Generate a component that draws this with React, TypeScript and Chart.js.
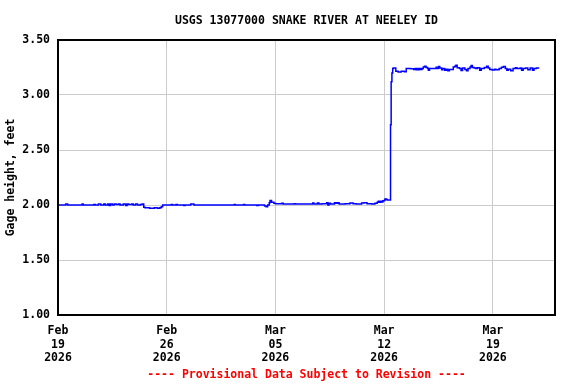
import { useEffect, useRef } from "react";
import { Chart, registerables } from "chart.js";

Chart.register(...registerables);

const chartTitle = "USGS 13077000 SNAKE RIVER AT NEELEY ID";
const yAxisTitle = "Gage height, feet";
const footerNote = "---- Provisional Data Subject to Revision ----";

// x values are days since Feb 19 2026 00:00
const xMinDay = 0;
const xMaxDay = 32;
const xTickDays = [0, 7, 14, 21, 28];
const xTickLabels = [
  ["Feb", "19", "2026"],
  ["Feb", "26", "2026"],
  ["Mar", "05", "2026"],
  ["Mar", "12", "2026"],
  ["Mar", "19", "2026"],
];
const yMin = 1.0;
const yMax = 3.5;
const yStep = 0.5;

const gageDays = [
  0.0, 0.5, 0.62, 1.55, 1.62, 2.3, 2.4, 2.6, 2.75, 2.95, 3.05, 3.2, 3.3, 3.38, 3.5, 3.62, 3.75, 3.9, 4.0,
  4.2, 4.35, 4.45, 4.55, 4.75, 4.85, 5.0, 5.12, 5.3, 5.42, 5.52, 5.6, 5.9, 6.2, 6.4, 6.55, 6.65,
  6.74, 7.3, 7.38, 7.6, 7.68, 8.1, 8.18, 8.55, 8.75, 11.35, 11.42, 11.95, 12.02, 12.8, 12.9, 13.3, 13.4,
  13.5, 13.6, 13.65, 13.75, 13.9, 14.0, 14.4, 14.5, 15.2, 15.3, 16.4, 16.48, 16.7, 16.8, 17.0, 17.3,
  17.38, 17.45, 17.55, 17.8, 17.9, 18.0, 18.1, 18.5, 18.8, 19.0, 19.2, 19.55, 19.7, 19.9, 20.2, 20.4,
  20.55, 20.62, 20.7, 20.78, 20.85, 20.92, 21.0, 21.05, 21.15, 21.2,
  21.41, 21.45, 21.5, 21.55, 21.6, 21.75, 21.9, 22.1, 22.3, 22.42, 22.7, 22.9, 23.0, 23.05, 23.12, 23.2,
  23.28, 23.36, 23.44, 23.52, 23.6, 23.7, 23.8, 23.85, 23.92, 24.2, 24.35, 24.4, 24.5, 24.58, 24.7,
  24.78, 24.9, 25.0, 25.1, 25.2, 25.45, 25.55, 25.62, 25.7, 25.85, 25.95, 26.05, 26.2, 26.3, 26.4,
  26.53, 26.6, 26.68, 26.8, 26.9, 27.0, 27.15, 27.25, 27.45, 27.6, 27.7, 27.8, 27.95, 28.1, 28.2, 28.4,
  28.55, 28.68, 28.8, 28.9, 29.0, 29.15, 29.3, 29.45, 29.55, 29.75, 29.85, 29.95, 30.1, 30.25, 30.4,
  30.55, 30.65, 30.8, 30.94,
];

const gageFeet = [
  2.0, 2.01, 2.0, 2.01, 2.0, 2.005, 2.0, 2.01, 2.0, 2.01, 2.0, 2.01, 1.995, 2.01, 2.0, 2.01, 2.005, 2.01, 2.0,
  2.01, 1.995, 2.01, 2.005, 2.01, 2.0, 2.01, 2.0, 2.005, 2.01, 1.98, 1.975, 1.97, 1.975, 1.97, 1.975, 1.985,
  2.0, 2.005, 2.0, 2.005, 2.0, 1.995, 2.0, 2.01, 2.0, 2.005, 2.0, 2.005, 2.0, 1.995, 2.0, 1.99, 1.985,
  2.0, 2.02, 2.04, 2.025, 2.015, 2.012, 2.015, 2.01, 2.012, 2.01, 2.018, 2.01, 2.018, 2.01, 2.012, 2.02,
  2.0, 2.015, 2.01, 2.02, 2.015, 2.02, 2.01, 2.012, 2.018, 2.012, 2.01, 2.018, 2.02, 2.012, 2.01, 2.015,
  2.025, 2.035, 2.025, 2.035, 2.028, 2.038, 2.04, 2.055, 2.05, 2.045,
  2.73, 3.12, 3.2, 3.24, 3.245, 3.215, 3.21, 3.215, 3.212, 3.24, 3.238, 3.232, 3.24, 3.23, 3.24, 3.23,
  3.24, 3.232, 3.242, 3.255, 3.262, 3.25, 3.24, 3.225, 3.242, 3.24, 3.252, 3.24, 3.258, 3.245, 3.23,
  3.24, 3.225, 3.235, 3.22, 3.232, 3.255, 3.262, 3.27, 3.248, 3.24, 3.222, 3.245, 3.232, 3.22, 3.24,
  3.255, 3.268, 3.25, 3.245, 3.24, 3.248, 3.225, 3.24, 3.25, 3.262, 3.245, 3.232, 3.228, 3.235, 3.23, 3.24,
  3.252, 3.258, 3.24, 3.225, 3.235, 3.22, 3.24, 3.248, 3.242, 3.245, 3.225, 3.24, 3.245, 3.23, 3.245,
  3.225, 3.24, 3.245, 3.238,
];

const FONT_FAMILY = "'DejaVu Sans Mono', 'Liberation Mono', monospace";

export default function App() {
  const canvasRef = useRef<HTMLCanvasElement | null>(null);

  useEffect(() => {
    document.body.style.margin = "0";
    const canvas = canvasRef.current;
    if (!canvas) return;

    const points = gageDays.map((d, i) => ({ x: d, y: gageFeet[i] }));

    const textPlugin = {
      id: "usgsText",
      afterDraw(chart: any) {
        const { ctx, chartArea } = chart;
        ctx.save();
        // frame
        ctx.strokeStyle = "#000000";
        ctx.lineWidth = 2;
        ctx.strokeRect(chartArea.left, chartArea.top, chartArea.right - chartArea.left, chartArea.bottom - chartArea.top);
        const cx = (chartArea.left + chartArea.right) / 2;
        ctx.font = `bold 11.5px ${FONT_FAMILY}`;
        ctx.textAlign = "center";
        ctx.textBaseline = "middle";
        ctx.fillStyle = "#000000";
        ctx.fillText(chartTitle, cx, 21);
        ctx.fillStyle = "#ff0000";
        ctx.fillText(footerNote, cx, 375);
        ctx.restore();
      },
    };

    const chart = new Chart(canvas, {
      type: "line",
      data: {
        datasets: [
          {
            data: points,
            borderColor: "#0000ff",
            borderWidth: 1.5,
            pointRadius: 0,
            stepped: true,
            fill: false,
          },
        ],
      },
      options: {
        animation: false,
        responsive: false,
        events: [],
        layout: { padding: { top: 40, right: 21, bottom: 0, left: 0 } },
        plugins: {
          legend: { display: false },
          title: { display: false },
          tooltip: { enabled: false },
        },
        scales: {
          x: {
            type: "linear",
            min: xMinDay,
            max: xMaxDay,
            afterBuildTicks(scale: any) {
              scale.ticks = xTickDays.map((v) => ({ value: v }));
            },
            afterFit(scale: any) {
              scale.height = 69;
            },
            grid: { color: "#cccccc", lineWidth: 1, drawTicks: false },
            border: { display: false },
            ticks: {
              autoSkip: false,
              maxRotation: 0,
              padding: 9,
              color: "#000000",
              font: { family: FONT_FAMILY, size: 11.5, weight: "bold", lineHeight: 1.2 },
              callback(value: any) {
                const i = xTickDays.indexOf(Number(value));
                return i >= 0 ? xTickLabels[i] : "";
              },
            },
          },
          y: {
            type: "linear",
            min: yMin,
            max: yMax,
            afterFit(scale: any) {
              scale.width = 58;
            },
            grid: { color: "#cccccc", lineWidth: 1, drawTicks: false },
            border: { display: false },
            title: {
              display: true,
              text: yAxisTitle,
              color: "#000000",
              padding: { top: 4, bottom: 0 },
              font: { family: FONT_FAMILY, size: 11.5, weight: "bold", lineHeight: 1.2 },
            },
            ticks: {
              stepSize: yStep,
              padding: 8,
              color: "#000000",
              font: { family: FONT_FAMILY, size: 11.5, weight: "bold" },
              callback(value: any) {
                return Number(value).toFixed(2);
              },
            },
          },
        },
      },
      plugins: [textPlugin],
    });

    return () => {
      chart.destroy();
    };
  }, []);

  return (
    <div style={{ width: 576, height: 384 }}>
      <canvas ref={canvasRef} width={576} height={384} style={{ display: "block" }} />
    </div>
  );
}
